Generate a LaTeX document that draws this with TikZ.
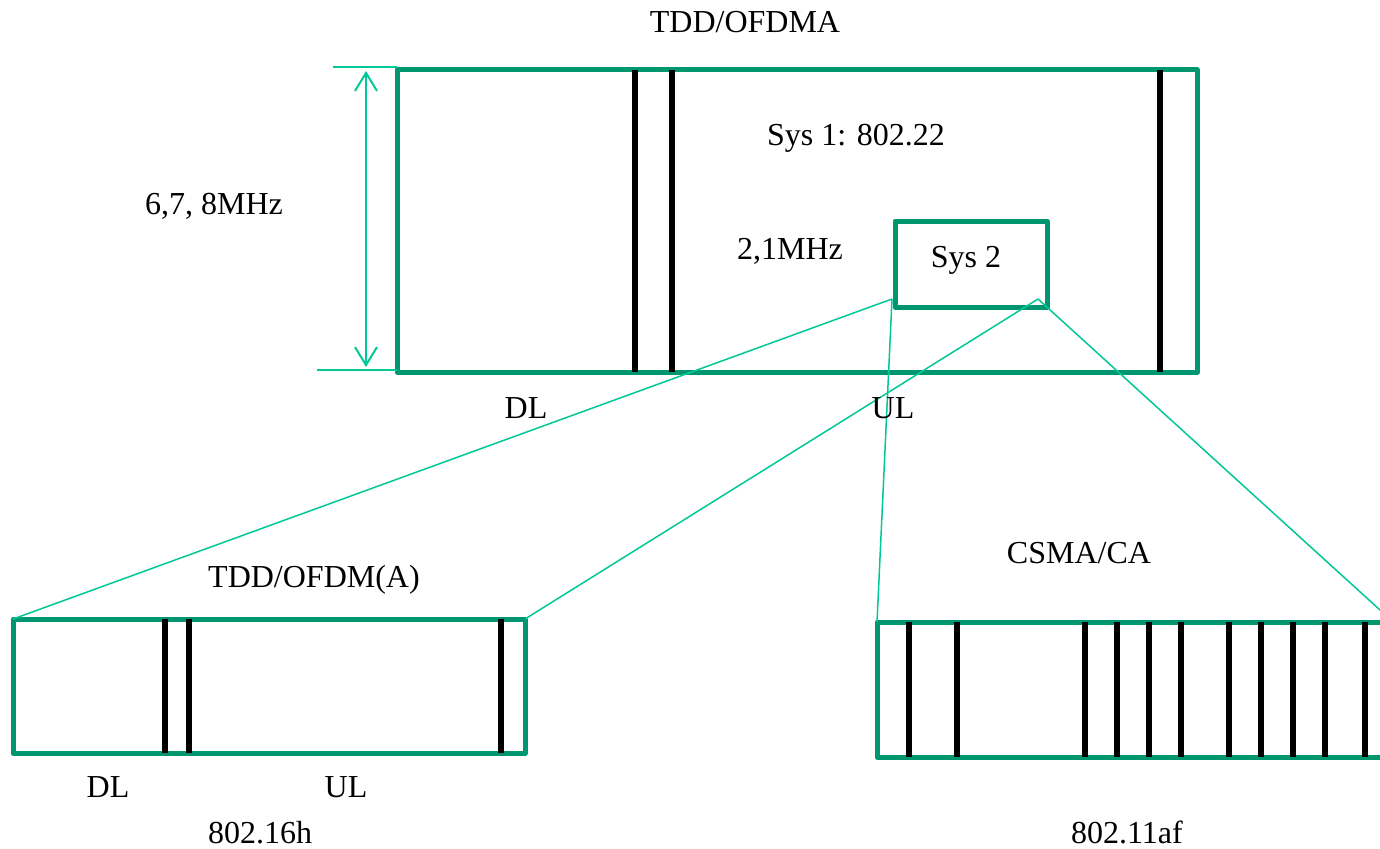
\documentclass[tikz,border=0pt]{standalone}
\usepackage{fontspec}
\setmainfont{Liberation Serif}
\usetikzlibrary{arrows.meta}
\definecolor{boxgreen}{RGB}{0,150,112}
\definecolor{linkgreen}{RGB}{0,200,150}
\tikzset{
  frame/.style={draw=boxgreen, line width=5pt, line join=round, inner sep=0pt, outer sep=0pt, anchor=north west},
  bar/.style={draw=black, line width=6pt},
  link/.style={draw=linkgreen, line width=1.5pt},
  lbl/.style={font=\fontsize{32}{38}\selectfont, anchor=base, inner sep=0pt, text=black},
}
\begin{document}
\begin{tikzpicture}[x=1pt,y=-1pt]
\useasboundingbox (0,0) rectangle (1380,848);
\clip (0,0) rectangle (1380,848);
% boxes
\node[frame, minimum width=800pt, minimum height=302pt] (top) at (397,70) {};
\node[frame, minimum width=152pt, minimum height=86pt] (sys2) at (895,221) {};
\node[frame, minimum width=512pt, minimum height=134pt] (bl) at (13,619) {};
\node[frame, minimum width=560pt, minimum height=135pt] (br) at (877,622) {};
% bars in top box
\foreach \x in {635,672,1160} \draw[bar] (\x,70) -- (\x,372);
% bars in bottom-left box
\foreach \x in {165,189,501} \draw[bar] (\x,619) -- (\x,753);
% bars in bottom-right box
\foreach \x in {909,957,1085,1117,1149,1181,1229,1261,1293,1325,1365} \draw[bar] (\x,622) -- (\x,757);
% dimension arrow
\coordinate (dt1) at (333,67);
\coordinate (dt2) at (317,370);
\draw[link] (dt1) -- (dt1 -| top.west);
\draw[link] (dt2) -- (dt2 -| top.west);
\coordinate (a1) at (366,71);
\coordinate (a2) at (366,367);
\draw[link, line width=2pt, {Straight Barb[length=18pt,width=22pt,line width=2pt]}-{Straight Barb[length=18pt,width=22pt,line width=2pt]}] (a1) -- (a2);
% zoom connectors
\coordinate (s2l) at (892,299);
\coordinate (s2r) at (1038,299);
\coordinate (rend) at (1380,610);
\draw[link] (s2l) -- (bl.north west);
\draw[link] (s2l) -- (br.north west);
\draw[link] (s2r) -- (bl.north east);
\draw[link] (s2r) -- (rend);
% labels
\node[lbl] (t1) at (745,33) {TDD/OFDMA};
\node[lbl] (t2) at (856,146) {Sys 1: 802.22};
\node[lbl] (t3) at (214,214) {6,7, 8MHz};
\node[lbl] (t4) at (790,259) {2,1MHz};
\node[lbl] (t5) at (966,267) {Sys 2};
\node[lbl] (t6) at (526,418) {DL};
\node[lbl] (t7) at (893,418) {UL};
\node[lbl] (t8) at (314,587) {TDD/OFDM(A)};
\node[lbl] (t9) at (1079,563) {CSMA/CA};
\node[lbl] (t10) at (108,797) {DL};
\node[lbl] (t11) at (346,797) {UL};
\node[lbl] (t12) at (260,843) {802.16h};
\node[lbl] (t13) at (1127,843) {802.11af};
\end{tikzpicture}
\end{document}
